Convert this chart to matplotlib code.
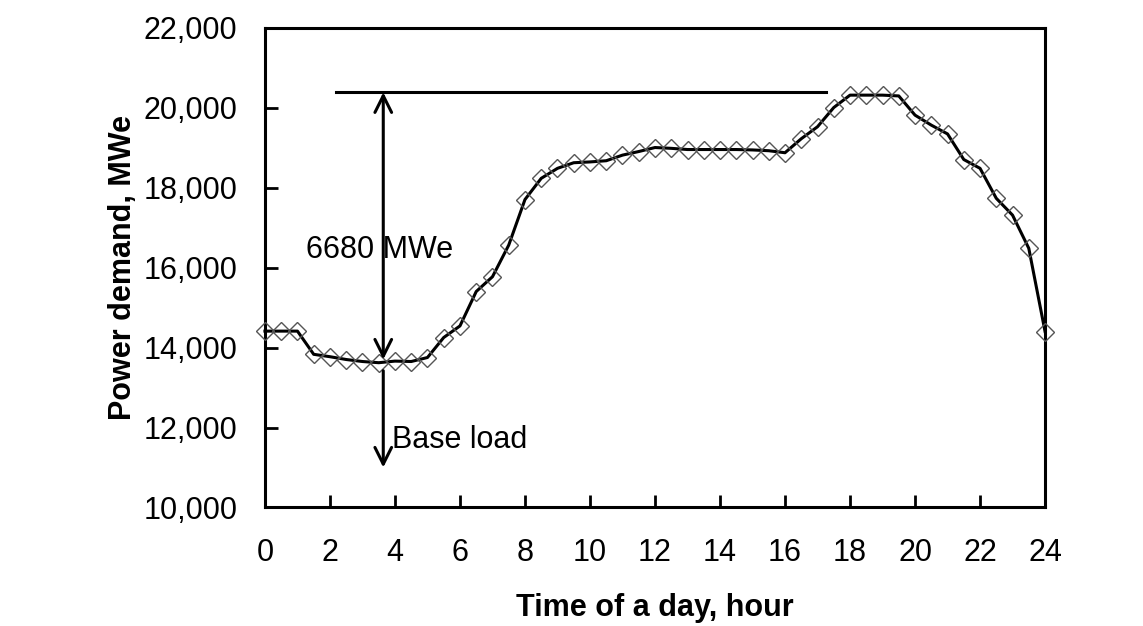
import matplotlib
matplotlib.use("Agg")
import matplotlib.pyplot as plt
from matplotlib.ticker import FuncFormatter

# ── data (half-hour steps) ────────────────────────────────────────────────
hours = [i * 0.5 for i in range(49)]
demand = [
    14410, 14410, 14410, 13830, 13770, 13700, 13650, 13620, 13660, 13650,
    13750, 14250, 14540, 15400, 15770, 16560, 17700, 18230, 18480, 18620,
    18640, 18670, 18810, 18900, 19000, 18980, 18950, 18950, 18950, 18950,
    18940, 18920, 18870, 19220, 19520, 20000, 20310, 20310, 20310, 20290,
    19810, 19560, 19340, 18700, 18480, 17730, 17310, 16480, 14400,
]

x_ticks = list(range(0, 25, 2))
y_ticks = list(range(10000, 22001, 2000))

# annotation geometry (data units)
peak_line = (2.2, 17.25, 20380)      # x start, x end, y
span_x = 3.64
span_bottom, span_top = 13700, 20380
base_from, base_to = 13420, 11000
span_label = "6680 MWe"
base_label = "Base load"

FONT = "Liberation Sans"
plt.rcParams["font.family"] = FONT

fig = plt.figure(figsize=(11.43, 6.26), dpi=100)
ax = fig.add_axes([0.2318, 0.1893, 0.6825, 0.7667])

ax.plot(hours, demand, color="black", linewidth=2.2, zorder=3, clip_on=False,
        marker="D", markersize=9, markerfacecolor="none",
        markeredgecolor="#555555", markeredgewidth=1.0)

ax.set_xlim(0, 24)
ax.set_ylim(10000, 22000)
ax.set_xticks(x_ticks)
ax.set_yticks(y_ticks)
ax.yaxis.set_major_formatter(FuncFormatter(lambda v, p: f"{int(v):,}"))
ax.tick_params(direction="in", length=9, width=2, labelsize=22,
               top=False, right=False)
ax.tick_params(axis="y", pad=20)
ax.tick_params(axis="x", pad=22)
for s in ax.spines.values():
    s.set_linewidth(2.2)

ax.set_xlabel("Time of a day, hour", fontsize=22, fontweight="bold", labelpad=18)
ax.set_ylabel("Power demand, MWe", fontsize=22, fontweight="bold", labelpad=4)

# peak reference line and arrows
ax.plot(peak_line[:2], [peak_line[2]] * 2, color="black", linewidth=2.2)
arrow = dict(arrowstyle="<->", color="black", linewidth=2.2,
             mutation_scale=30, shrinkA=0, shrinkB=0)
ax.annotate("", xy=(span_x, span_top), xytext=(span_x, span_bottom),
            arrowprops=arrow)
ax.annotate("", xy=(span_x, base_to), xytext=(span_x, base_from),
            arrowprops=dict(arrow, arrowstyle="->"))
ax.text(1.25, 16450, span_label, fontsize=22, va="center", ha="left")
ax.text(3.9, 11700, base_label, fontsize=22, va="center", ha="left")

fig.savefig("out.png", dpi=100)
